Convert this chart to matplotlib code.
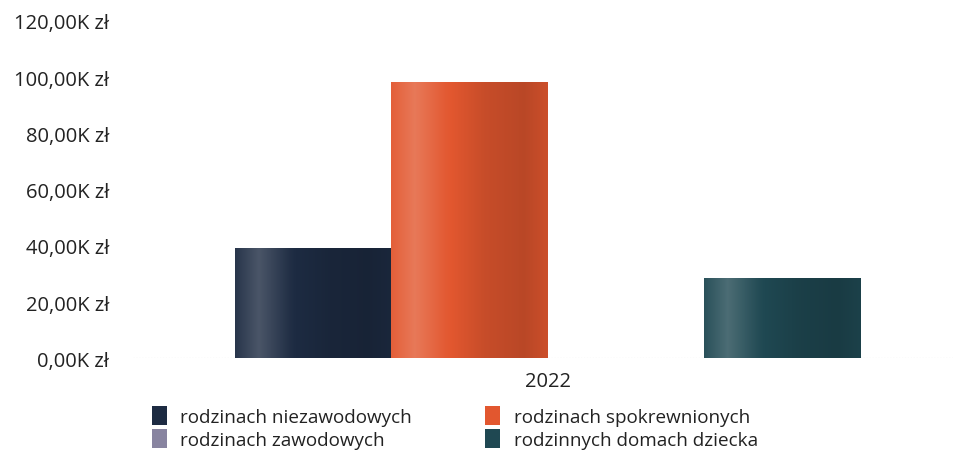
import numpy as np
import matplotlib
matplotlib.use("Agg")
import matplotlib.pyplot as plt
from matplotlib.patches import Patch
from matplotlib.colors import to_rgb
from matplotlib.ticker import FuncFormatter

plt.rcParams['font.family'] = ['Open Sans', 'DejaVu Sans']

categories = ['2022']
series = ['rodzinach niezawodowych', 'rodzinach spokrewnionych',
          'rodzinach zawodowych', 'rodzinnych domach dziecka']
values = [39.1, 98.4, 0.0, 28.4]          # in thousands of zł
colors = ['#1d2b42', '#e2572f', '#8884a0', '#1f4852']
yticks = [0, 20, 40, 60, 80, 100, 120]

# lighting profile across a bar (soft cylinder-like sheen)
shade_x = [0.0, 0.15, 0.35, 0.6, 0.85, 1.0]
shade_k = [0.05, 0.20, 0.02, -0.12, -0.18, -0.10]


def shaded(color, n=200):
    base = np.array(to_rgb(color))
    k = np.interp(np.linspace(0, 1, n), shade_x, shade_k)
    out = []
    for v in k:
        if v >= 0:
            out.append(base + (1 - base) * v)
        else:
            out.append(base * (1 + v))
    return np.clip(np.array(out), 0, 1)[None, :, :]


fig = plt.figure(figsize=(9.54, 4.56), dpi=100)
ax = fig.add_axes([0.139, 0.212, 0.87, 0.74])

width = 0.1885
x = np.arange(len(categories))
offsets = (np.arange(len(series)) - (len(series) - 1) / 2) * width
for i, name in enumerate(series):
    bars = ax.bar(x + offsets[i], [values[i]], width, color=colors[i], label=name, zorder=2)
    for b in bars:
        x0, y0 = b.get_x(), b.get_y()
        w, h = b.get_width(), b.get_height()
        if h <= 0:
            continue
        im = ax.imshow(shaded(colors[i]), extent=[x0, x0 + w, y0, y0 + h],
                       aspect='auto', zorder=3, interpolation='bilinear')
        im.set_clip_path(b)

ax.set_xlim(-0.5, 0.5)
ax.set_ylim(0, 120)
ax.set_yticks(yticks)
ax.yaxis.set_major_formatter(FuncFormatter(lambda v, p: f"{v:.2f}".replace('.', ',') + "K zł"))
ax.set_xticks(x)
ax.set_xticklabels(categories)
ax.tick_params(axis='both', length=0, labelsize=14.5, colors='#222222', pad=9)
ax.tick_params(axis='y', pad=17)
for s in ax.spines.values():
    s.set_visible(False)
ax.axhline(0, color='#bbbbbb', lw=0.8, ls=':', zorder=1)

handles = [Patch(facecolor=c, edgecolor='none') for c in colors]
# column order: niezawodowych, zawodowych | spokrewnionych, domach dziecka
order = [0, 2, 1, 3]
fig.legend([handles[i] for i in order], [series[i] for i in order],
           loc='lower left', bbox_to_anchor=(0.141, -0.024), ncol=2, frameon=False,
           fontsize=13.6, handlelength=0.8, handleheight=1.2, handletextpad=0.7,
           columnspacing=3.9, labelspacing=0.15, labelcolor='#222222')

fig.savefig('out.png', dpi=100, facecolor='white')
